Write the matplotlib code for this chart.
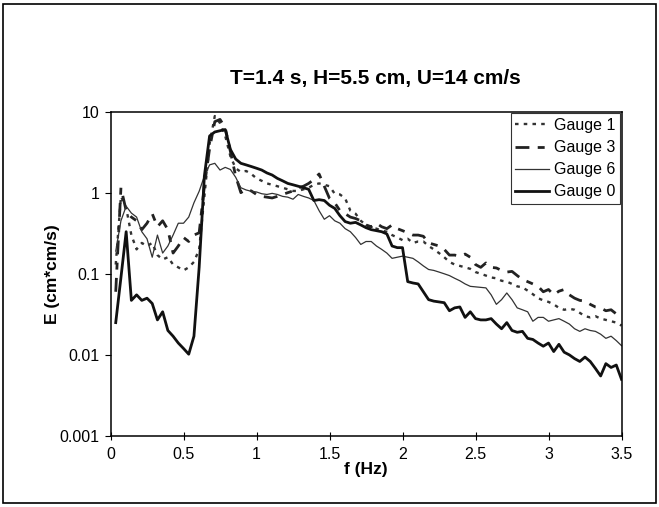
import numpy as np
import matplotlib
matplotlib.use('Agg')
import matplotlib.pyplot as plt
from matplotlib.patches import Rectangle

plt.rcParams['font.family'] = ['Liberation Sans', 'DejaVu Sans']

# spectrum sampled every 1/28 Hz
df = 1 / 28.0
freq = df * np.arange(1, 99)

gauge1 = [0.13, 0.9, 0.65, 0.3, 0.2, 0.24, 0.22, 0.24, 0.17, 0.15,
          0.16, 0.13, 0.12, 0.11, 0.12, 0.14, 0.2, 0.9, 4.0, 8.8,
          7.2, 5.0, 2.8, 2.0, 1.8, 1.85, 1.7, 1.5, 1.4, 1.3,
          1.25, 1.2, 1.15, 1.1, 1.05, 1.05, 1.1, 1.15, 1.25, 1.3,
          1.25, 1.2, 0.97, 0.95, 0.85, 0.6, 0.55, 0.45, 0.4, 0.37,
          0.36, 0.34, 0.33, 0.3, 0.28, 0.26, 0.27, 0.24, 0.25, 0.25,
          0.22, 0.2, 0.18, 0.16, 0.14, 0.13, 0.125, 0.12, 0.115, 0.105,
          0.1, 0.095, 0.09, 0.088, 0.082, 0.08, 0.075, 0.07, 0.068, 0.062,
          0.056, 0.05, 0.047, 0.045, 0.042, 0.038, 0.036, 0.037, 0.036, 0.033,
          0.03, 0.029, 0.03, 0.028, 0.027, 0.026, 0.025, 0.023]

gauge3 = [0.06, 1.15, 0.6, 0.5, 0.45, 0.35, 0.42, 0.55, 0.38, 0.45,
          0.35, 0.18, 0.22, 0.28, 0.25, 0.3, 0.32, 1.2, 3.5, 7.5,
          8.0, 6.3, 3.2, 1.6, 1.0, 1.1, 1.05, 0.95, 0.9, 0.88,
          0.86, 0.9, 0.95, 1.0, 1.05, 1.15, 1.2, 1.3, 1.45, 1.7,
          1.2, 0.85, 0.75, 0.6, 0.55, 0.5, 0.48, 0.45, 0.4, 0.38,
          0.42, 0.38, 0.36, 0.4, 0.36, 0.34, 0.32, 0.3, 0.3, 0.29,
          0.24, 0.23, 0.22, 0.2, 0.17, 0.17, 0.165, 0.175, 0.16, 0.13,
          0.12, 0.136, 0.12, 0.118, 0.11, 0.105, 0.107, 0.095, 0.085, 0.08,
          0.075, 0.07, 0.06, 0.064, 0.055, 0.061, 0.064, 0.055, 0.05, 0.047,
          0.046, 0.042, 0.039, 0.038, 0.035, 0.036, 0.032, 0.03]

gauge6 = [0.19, 0.45, 0.68, 0.56, 0.5, 0.33, 0.27, 0.16, 0.3, 0.18,
          0.22, 0.3, 0.42, 0.42, 0.5, 0.75, 1.04, 1.6, 2.2, 2.3,
          1.9, 2.05, 1.93, 1.55, 1.15, 1.08, 1.04, 1.02, 0.97, 0.95,
          0.98, 0.95, 0.9, 0.88, 0.83, 0.95, 0.9, 0.86, 0.8, 0.6,
          0.47, 0.52, 0.45, 0.42, 0.36, 0.33, 0.28, 0.23, 0.25, 0.25,
          0.22, 0.2, 0.18, 0.155, 0.16, 0.165, 0.16, 0.155, 0.14, 0.125,
          0.113, 0.11, 0.105, 0.1, 0.095, 0.088, 0.082, 0.075, 0.07, 0.069,
          0.068, 0.067, 0.055, 0.042, 0.048, 0.058, 0.048, 0.038, 0.036, 0.034,
          0.026, 0.029, 0.029, 0.026, 0.027, 0.028, 0.026, 0.024, 0.021, 0.0195,
          0.021, 0.02, 0.0195, 0.018, 0.016, 0.017, 0.015, 0.013]

gauge0 = [0.025, 0.09, 0.33, 0.047, 0.055, 0.047, 0.05, 0.043, 0.027, 0.034,
          0.02, 0.017, 0.014, 0.012, 0.0102, 0.017, 0.12, 1.6, 5.0, 5.6,
          5.8, 6.0, 3.4, 2.6, 2.3, 2.2, 2.1, 2.0, 1.9, 1.75,
          1.65, 1.5, 1.4, 1.3, 1.25, 1.2, 1.15, 1.1, 0.8, 0.82,
          0.8, 0.7, 0.64, 0.52, 0.44, 0.42, 0.43, 0.4, 0.37, 0.35,
          0.34, 0.33, 0.31, 0.22, 0.21, 0.21, 0.08, 0.077, 0.075, 0.06,
          0.048, 0.046, 0.045, 0.044, 0.035, 0.038, 0.039, 0.029, 0.034, 0.028,
          0.027, 0.027, 0.028, 0.024, 0.021, 0.025, 0.02, 0.019, 0.0195, 0.016,
          0.0155, 0.014, 0.0128, 0.014, 0.011, 0.0135, 0.0108, 0.01, 0.009, 0.0083,
          0.0094, 0.0083, 0.0068, 0.0055, 0.0078, 0.007, 0.0075, 0.005]

xticks = [0, 0.5, 1, 1.5, 2, 2.5, 3, 3.5]
xticklabels = ['0', '0.5', '1', '1.5', '2', '2.5', '3', '3.5']
yticks = [0.001, 0.01, 0.1, 1, 10]
yticklabels = ['0.001', '0.01', '0.1', '1', '10']

fig = plt.figure(figsize=(6.59, 5.07), dpi=100)
ax = fig.add_axes([0.1677, 0.14, 0.7754, 0.64])

ax.plot(freq, gauge1, color='#333333', lw=1.7, linestyle=(0, (1.5, 2.2)), label='Gauge 1')
ax.plot(freq, gauge3, color='#222222', lw=2.0, linestyle=(0, (5, 3, 2.5, 3)), label='Gauge 3')
ax.plot(freq, gauge6, color='#333333', lw=0.9, linestyle='solid', label='Gauge 6')
ax.plot(freq, gauge0, color='#111111', lw=2.0, linestyle='solid', label='Gauge 0')

ax.set_yscale('log')
ax.set_xlim(0, 3.5)
ax.set_ylim(0.001, 10)
ax.set_xticks(xticks)
ax.set_xticklabels(xticklabels)
ax.set_yticks(yticks)
ax.set_yticklabels(yticklabels)
ax.minorticks_off()
ax.tick_params(axis='x', direction='inout', length=6, labelsize=11.5, pad=5)
ax.tick_params(axis='y', direction='out', length=4, labelsize=11.5, pad=4)
for s in ax.spines.values():
    s.set_linewidth(1.1)

ax.set_xlabel('f (Hz)', fontsize=12.5, fontweight='bold', labelpad=0)
ax.set_ylabel('E (cm*cm/s)', fontsize=12.5, fontweight='bold')
ax.yaxis.set_label_coords(-0.099, 0.5)

fig.text(0.569, 0.846, 'T=1.4 s, H=5.5 cm, U=14 cm/s', ha='center', va='center',
         fontsize=15, fontweight='bold')

leg = ax.legend(loc='upper right', bbox_to_anchor=(1.0, 1.0), fontsize=11.5,
                frameon=True, fancybox=False, handlelength=2.1, handletextpad=0.3,
                borderpad=0.3, labelspacing=0.45, borderaxespad=0.1)
leg.get_frame().set_edgecolor('black')
leg.get_frame().set_linewidth(0.8)

fig.patches.append(Rectangle((0.005, 0.008), 0.99, 0.985, transform=fig.transFigure,
                             fill=False, edgecolor='black', linewidth=1.2))

plt.savefig('out.png', dpi=100)
plt.close()
